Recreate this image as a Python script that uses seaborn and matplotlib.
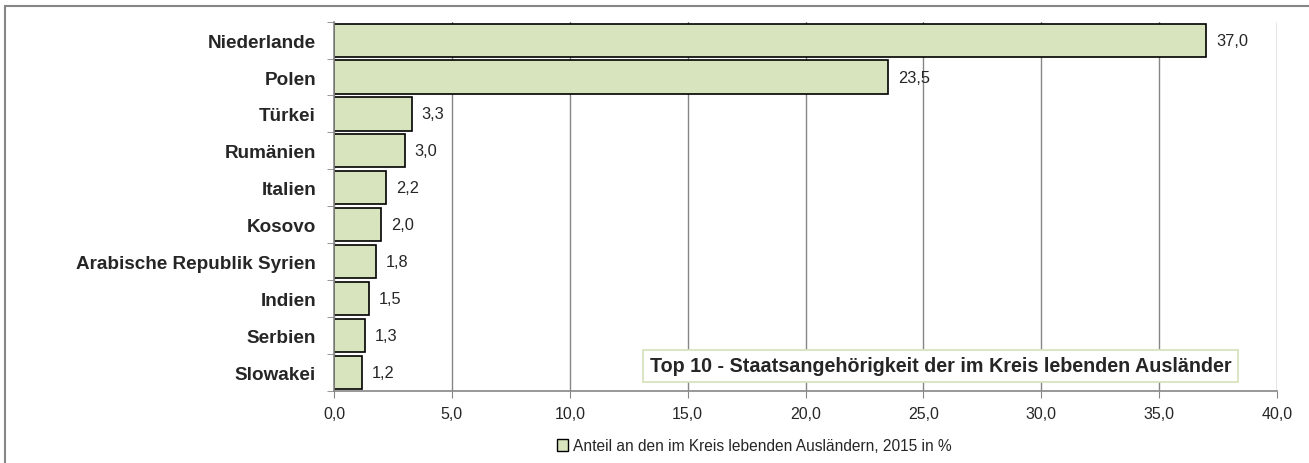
import matplotlib
matplotlib.use("Agg")
import matplotlib.pyplot as plt
from matplotlib.patches import Patch, Rectangle
import seaborn as sns
import pandas as pd

# Top 10 Staatsangehoerigkeiten
laender = ["Niederlande", "Polen", "Türkei", "Rumänien", "Italien", "Kosovo",
           "Arabische Republik Syrien", "Indien", "Serbien", "Slowakei"]
anteil = [37.0, 23.5, 3.3, 3.0, 2.2, 2.0, 1.8, 1.5, 1.3, 1.2]
x_ticks = [0, 5, 10, 15, 20, 25, 30, 35, 40]

legend_label = "Anteil an den im Kreis lebenden Ausländern, 2015 in %"
box_title = "Top 10 - Staatsangehörigkeit der im Kreis lebenden Ausländer"

df = pd.DataFrame({"land": laender, "anteil": anteil})

sns.set_style("white")
plt.rcParams["font.family"] = ["Liberation Sans", "DejaVu Sans"]

fig = plt.figure(figsize=(13.09, 4.64), dpi=100)
ax = fig.add_axes([0.2552, 0.1558, 0.7204, 0.7953])

bar_col = "#D7E4BD"
sns.barplot(data=df, x="anteil", y="land", orient="h", color=bar_col,
            edgecolor="black", linewidth=1.2, width=0.9, saturation=1, ax=ax)

# value labels with comma decimal
for i, v in enumerate(anteil):
    ax.annotate(f"{v:.1f}".replace(".", ","), (v, i), xytext=(7, 0),
                textcoords="offset points", va="center", ha="left", fontsize=11.8)

ax.set_xlim(0, 40)
ax.set_ylim(9.5, -0.5)
ax.set_xticks(x_ticks)
ax.set_xticklabels([f"{t:.1f}".replace(".", ",") for t in x_ticks], fontsize=11.5)
ax.set_xlabel("")
ax.set_ylabel("")
ax.set_yticks(range(len(laender)))
ax.set_yticklabels(laender, fontsize=13.6, fontweight="bold")
ax.tick_params(axis="y", length=0, pad=13)
ax.set_yticks([i - 0.5 for i in range(len(laender) + 1)], minor=True)
ax.tick_params(axis="y", which="minor", length=5, color="#868686", direction="out", left=True)
ax.tick_params(axis="x", length=5, color="#868686", direction="out", bottom=True, pad=6)

ax.grid(axis="x", color="#868686", linewidth=1)
ax.set_axisbelow(True)
for side in ["top", "right"]:
    ax.spines[side].set_visible(False)
for side in ["left", "bottom"]:
    ax.spines[side].set_color("#868686")
    ax.spines[side].set_linewidth(1.2)

# title box inside plot
ax.text(13.4, 8.82, box_title, fontsize=14.2, fontweight="bold", va="center", ha="left",
        bbox=dict(boxstyle="square,pad=0.33", facecolor="white", edgecolor="#D7E4BD", linewidth=1.3))

# legend at bottom
handle = Patch(facecolor=bar_col, edgecolor="black", linewidth=1)
fig.legend(handles=[handle], labels=[legend_label], loc="center", bbox_to_anchor=(0.576, 0.037),
           frameon=False, fontsize=11.2, handlelength=0.75, handleheight=0.75, handletextpad=0.3)

# outer border
fig.patches.append(Rectangle((5 / 1309, -0.1), 1.2, 1 - 7 / 464 + 0.1, transform=fig.transFigure,
                             fill=False, edgecolor="#868686", linewidth=1.5))

fig.savefig("out.png", dpi=100)
